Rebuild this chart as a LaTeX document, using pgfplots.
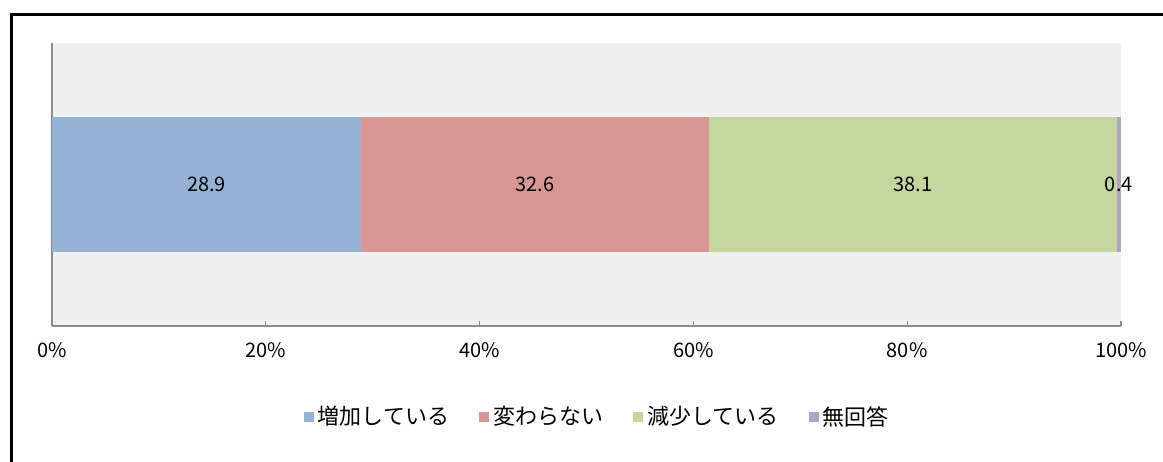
\documentclass[border=0pt]{standalone}
\usepackage{fontspec}
\setmainfont{Noto Sans CJK JP}
\usepackage{pgfplots}
\pgfplotsset{compat=1.18}
\definecolor{cA}{HTML}{95B3D7}
\definecolor{cB}{HTML}{D99694}
\definecolor{cC}{HTML}{C3D69B}
\definecolor{cD}{HTML}{B3A2C7}
\definecolor{bgc}{HTML}{F0F0F0}
\definecolor{axc}{HTML}{8C8C8C}
\begin{document}
\begin{tikzpicture}
\useasboundingbox (0pt,0pt) rectangle (581.5pt,230.5pt);
\draw[line width=1.5pt] (5.5pt,223pt) rectangle (600pt,-20pt);
\begin{axis}[
  at={(26pt,67.5pt)}, anchor=south west,
  scale only axis, width=534.5pt, height=141.5pt,
  xbar stacked,
  xmin=0, xmax=100, ymin=-1, ymax=1,
  bar width=67.5pt,
  ytick=\empty,
  xtick={0,20,40,60,80,100},
  xticklabels={0\%,20\%,40\%,60\%,80\%,100\%},
  xticklabel style={font=\fontsize{10}{12}\selectfont, yshift=-5pt},
  axis background/.style={fill=bgc},
  axis x line*=bottom, axis y line*=left,
  axis line style={draw=axc, line width=0.75pt, -},
  x tick style={draw=axc, line width=0.6pt},
  tick align=inside, major tick length=2.5pt,
  legend columns=4,
  legend style={at={(0.511,-0.322)}, anchor=center, draw=none, fill=none,
    font=\fontsize{11}{13}\selectfont,
    /tikz/every even column/.append style={column sep=13pt}},
  legend image code/.code={\fill[#1] (0pt,-2.5pt) rectangle (5pt,2.5pt);},
]
\addplot[fill=cA, draw=none] coordinates {(28.9,0)};
\addplot[fill=cB, draw=none] coordinates {(32.6,0)};
\addplot[fill=cC, draw=none] coordinates {(38.1,0)};
\addplot[fill=cD, draw=none] coordinates {(0.4,0)};
\legend{増加している,変わらない,減少している,無回答}
\end{axis}
\begin{axis}[
  at={(26pt,67.5pt)}, anchor=south west,
  scale only axis, width=534.5pt, height=141.5pt,
  xmin=0, xmax=100, ymin=-1, ymax=1,
  hide axis,
]
\addplot[draw=none, mark=none, nodes near coords, point meta=explicit symbolic,
  every node near coord/.append style={anchor=center, font=\fontsize{10}{12}\selectfont}]
  coordinates {(14.45,0)[28.9] (45.2,0)[32.6] (80.55,0)[38.1] (99.8,0)[0.4]};
\end{axis}
\end{tikzpicture}
\end{document}
